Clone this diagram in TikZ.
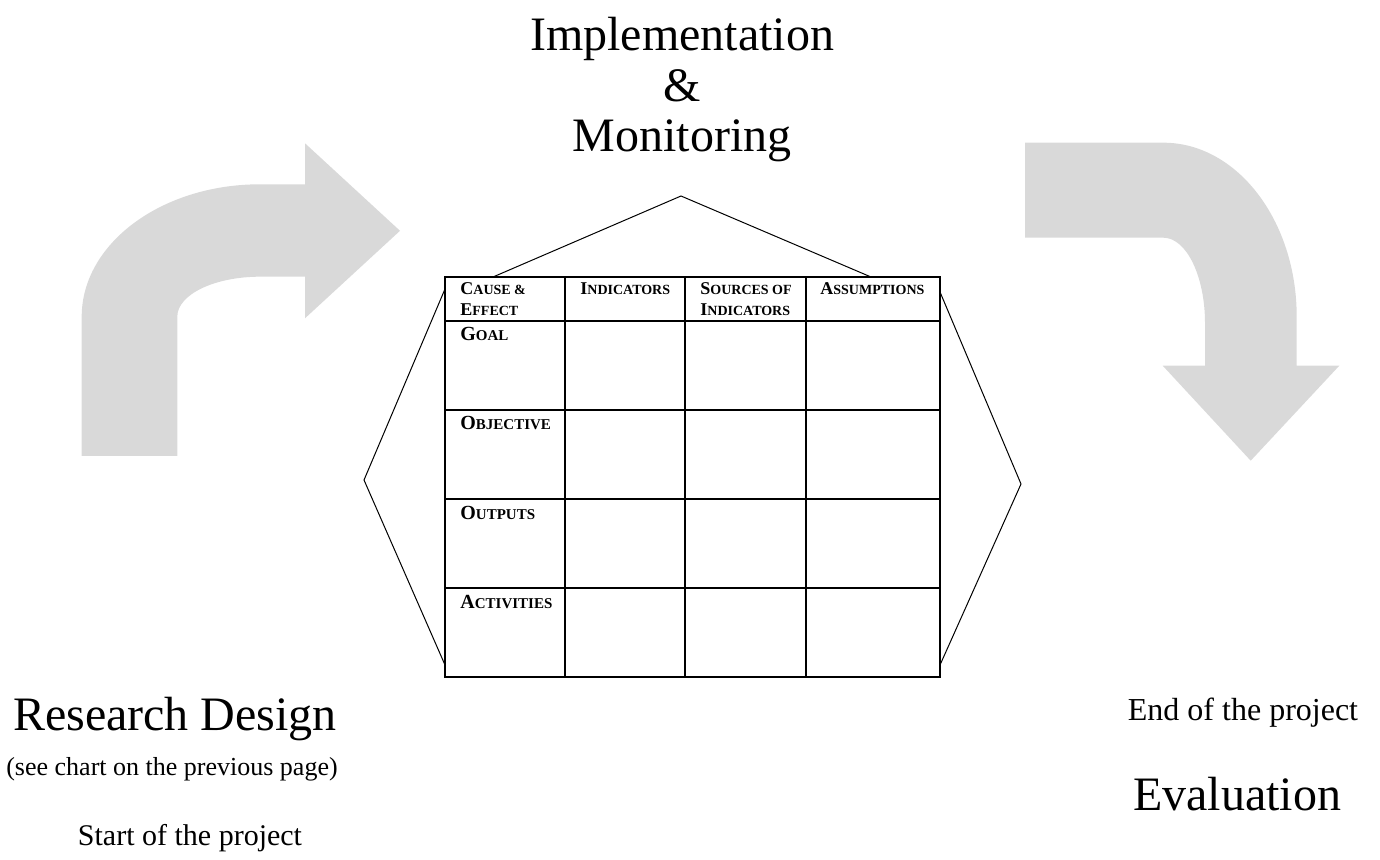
\documentclass[tikz,border=0pt]{standalone}
\usepackage{fontspec}
\setmainfont{Liberation Serif}
\usetikzlibrary{positioning, calc}
\usepackage{xcolor}
\definecolor{arrowgray}{HTML}{D9D9D9}

% fake small caps: first letter large, rest small
\newcommand{\hdcap}[2]{{\fontsize{9}{10.5}\selectfont #1}{\fontsize{7}{10.5}\selectfont #2}}
\newcommand{\rowcap}[2]{{\fontsize{10}{12}\selectfont #1}{\fontsize{7.5}{12}\selectfont #2}}

\begin{document}
\begin{tikzpicture}[
  x=0.5pt, y=-0.5pt,
  bigtext/.style = {font=\fontsize{24}{25}\selectfont, inner sep=0pt, anchor=base},
  midtext/.style = {font=\fontsize{16}{18}\selectfont, inner sep=0pt, anchor=base},
  hdtext/.style = {font=\bfseries, inner sep=0pt, anchor=base west},
  frameline/.style = {line width=0.5pt},
  gridline/.style = {line width=1pt},
  turnarrow/.style = {fill=arrowgray, draw=none}
]
  \useasboundingbox (0,0) rectangle (1380,860);

  % ======================================================
  % Title on top
  % ======================================================
  \node[bigtext] (impl) at (682,51) {Implementation};
  \node[bigtext] (amp) at ($(impl.base)+(0,51)$) {\&};
  \node[bigtext] (monit) at ($(amp.base)+(0,50)$) {Monitoring};

  % ======================================================
  % Grey turning arrows
  % ======================================================
  % left arrow (up, then right)
  \path[turnarrow] (81.7,456) -- (81.7,316.7)
    .. controls (81.7,243.6) and (161.5,184.3) .. (260,184.3)
    -- (305,184.3) -- (305,143.3) -- (400,230.8) -- (305,318.3)
    -- (305,276.7) -- (260,276.7)
    .. controls (214.3,276.7) and (177.3,294.6) .. (177.3,316.7)
    -- (177.3,456) -- cycle;

  % right arrow (right, then down)
  \path[turnarrow] (1025,142.7) -- (1163.3,142.7)
    .. controls (1237,142.7) and (1296.7,220.6) .. (1296.7,316.7)
    -- (1296.7,365.7) -- (1339.3,365.7) -- (1250.7,460.7) -- (1162.7,365.7)
    -- (1205,365.7) -- (1205,323.3)
    .. controls (1205,276) and (1186.3,237.7) .. (1163.3,237.7)
    -- (1025,237.7) -- cycle;

  % ======================================================
  % Frame round the table
  % ======================================================
  \draw[frameline] (493,277) -- (681,196) -- (871,277);
  \draw[frameline] (445,289) -- (364,480) -- (445,665);
  \draw[frameline] (940,292) -- (1021,484) -- (940,665);

  % ======================================================
  % Table
  % ======================================================
  \draw[gridline] (445,277) rectangle (940,677);
  \foreach \x in {565,685,806}
    \draw[gridline] (\x,277) -- (\x,677);
  \foreach \y in {321,410,499,588}
    \draw[gridline] (445,\y) -- (940,\y);

  % header
  \node[hdtext] (cause) at (460,295) {\hdcap{C}{AUSE \&}};
  \node[hdtext] (effect) at (460,316) {\hdcap{E}{FFECT}};
  \node[hdtext] (indic) at (580,295) {\hdcap{I}{NDICATORS}};
  \node[hdtext] (sources) at (700,295) {\hdcap{S}{OURCES OF}};
  \node[hdtext] (sourcesb) at (700,316) {\hdcap{I}{NDICATORS}};
  \node[hdtext] (assum) at (820,295) {\hdcap{A}{SSUMPTIONS}};

  % row labels
  \node[hdtext] (goal) at (460,341) {\rowcap{G}{OAL}};
  \node[hdtext] (objective) at (460,430) {\rowcap{O}{BJECTIVE}};
  \node[hdtext] (outputs) at (460,519) {\rowcap{O}{UTPUTS}};
  \node[hdtext] (activities) at (460,608) {\rowcap{A}{CTIVITIES}};

  % ======================================================
  % Start and end of the project
  % ======================================================
  \node[bigtext] (design) at (175,730) {Research Design};
  \node[inner sep=0pt, anchor=base, font=\fontsize{13}{15}\selectfont] (seechart) at (172,775) {(see chart on the previous page)};
  \node[inner sep=0pt, anchor=base, font=\fontsize{15}{17}\selectfont] (start) at (190,845) {Start of the project};

  \node[midtext] (finish) at (1243,720) {End of the project};
  \node[bigtext] (evaluation) at (1237,810) {Evaluation};

\end{tikzpicture}
\end{document}
